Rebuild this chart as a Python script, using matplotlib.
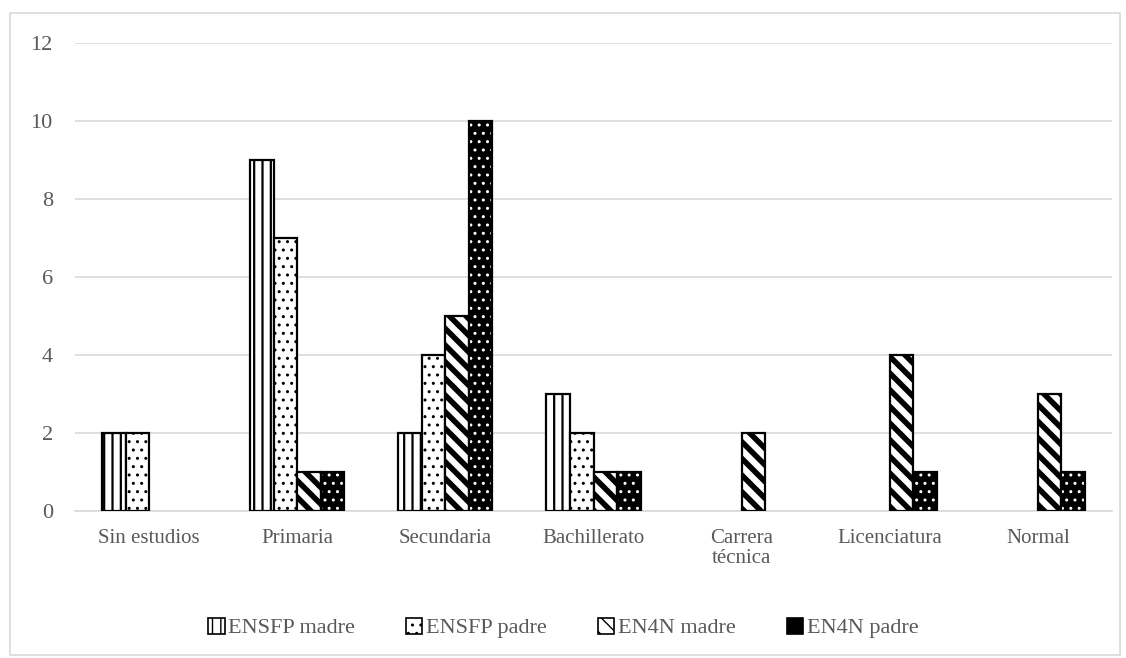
import matplotlib
matplotlib.use("Agg")
import matplotlib.pyplot as plt
import numpy as np
from matplotlib.patches import Rectangle, Patch

categories = ["Sin estudios", "Primaria", "Secundaria", "Bachillerato",
              "Carrera\ntécnica", "Licenciatura", "Normal"]
ensfp_madre = [2, 9, 2, 3, 0, 0, 0]
ensfp_padre = [2, 7, 4, 2, 0, 0, 0]
en4n_madre = [0, 1, 5, 1, 2, 4, 3]
en4n_padre = [0, 1, 10, 1, 0, 1, 1]
series_names = ["ENSFP madre", "ENSFP padre", "EN4N madre", "EN4N padre"]
y_ticks = [0, 2, 4, 6, 8, 10, 12]

plt.rcParams['font.family'] = ['Liberation Serif', 'DejaVu Serif']
text_color = "#595959"

fig = plt.figure(figsize=(11.26, 6.58), dpi=100)
fig.patches.append(Rectangle((10 / 1126, 3 / 658), 1110 / 1126, 642 / 658,
                             transform=fig.transFigure, fill=False,
                             edgecolor="#d9d9d9", linewidth=1.2, zorder=0))
ax = fig.add_axes([75 / 1126, 1 - 511 / 658, 1037 / 1126, 468 / 658])

x = np.arange(len(categories))
w = 0.159
offsets = [-1.5 * w, -0.5 * w, 0.5 * w, 1.5 * w]


def nonzero(values, shift):
    vals = np.asarray(values, dtype=float)
    keep = vals > 0
    return x[keep] + shift, vals[keep]


# ENSFP madre: white with vertical lines
with plt.rc_context({'hatch.linewidth': 1.6}):
    xs, vs = nonzero(ensfp_madre, offsets[0])
    ax.bar(xs, vs, w, facecolor="white", edgecolor="black",
           hatch="||", linewidth=1.6, zorder=3)
# ENSFP padre: white with sparse dots
with plt.rc_context({'hatch.linewidth': 1.0}):
    xs, vs = nonzero(ensfp_padre, offsets[1])
    ax.bar(xs, vs, w, facecolor="white", edgecolor="black",
           hatch="..", linewidth=1.6, zorder=3)
# EN4N madre: bold diagonal stripes
with plt.rc_context({'hatch.linewidth': 4.0}):
    xs, vs = nonzero(en4n_madre, offsets[2])
    ax.bar(xs, vs, w, facecolor="white", edgecolor="black",
           hatch="\\\\", linewidth=1.6, zorder=3)
# EN4N padre: black with white dots, outlined in black
xs, vs = nonzero(en4n_padre, offsets[3])
with plt.rc_context({'hatch.linewidth': 1.0}):
    ax.bar(xs, vs, w, facecolor="black", edgecolor="white",
           hatch="..", linewidth=0, zorder=3)
ax.bar(xs, vs, w, facecolor="none", edgecolor="black", linewidth=1.6, zorder=4)

ax.set_xlim(-0.5, len(categories) - 0.5)
ax.set_ylim(0, 12)
ax.set_yticks(y_ticks)
ax.set_xticks(x)
ax.set_xticklabels(categories, linespacing=1.05)
ax.tick_params(axis="y", length=0, pad=16, labelsize=16, labelcolor=text_color)
ax.tick_params(axis="x", length=0, pad=13, labelsize=15, labelcolor=text_color)
ax.grid(axis="y", color="#d9d9d9", linewidth=1.2, zorder=0)
ax.set_axisbelow(True)
for s in ["top", "right", "left"]:
    ax.spines[s].set_visible(False)
ax.spines["bottom"].set_color("#d9d9d9")
ax.spines["bottom"].set_linewidth(1.2)

handles = []
with plt.rc_context({'hatch.linewidth': 1.6}):
    handles.append(Patch(facecolor="white", edgecolor="black", hatch="||", linewidth=1.2))
with plt.rc_context({'hatch.linewidth': 1.0}):
    handles.append(Patch(facecolor="white", edgecolor="black", hatch="..", linewidth=1.2))
with plt.rc_context({'hatch.linewidth': 3.0}):
    handles.append(Patch(facecolor="white", edgecolor="black", hatch="\\\\", linewidth=1.2))
handles.append(Patch(facecolor="black", edgecolor="black", linewidth=1.2))

leg = fig.legend(handles, series_names, loc="center", bbox_to_anchor=(0.5, 1 - 628 / 658),
                 ncol=4, frameon=False, fontsize=16, handlelength=0.75, handleheight=0.75,
                 handletextpad=0.15, columnspacing=2.3, labelcolor=text_color)

fig.savefig("out.png", dpi=100)
